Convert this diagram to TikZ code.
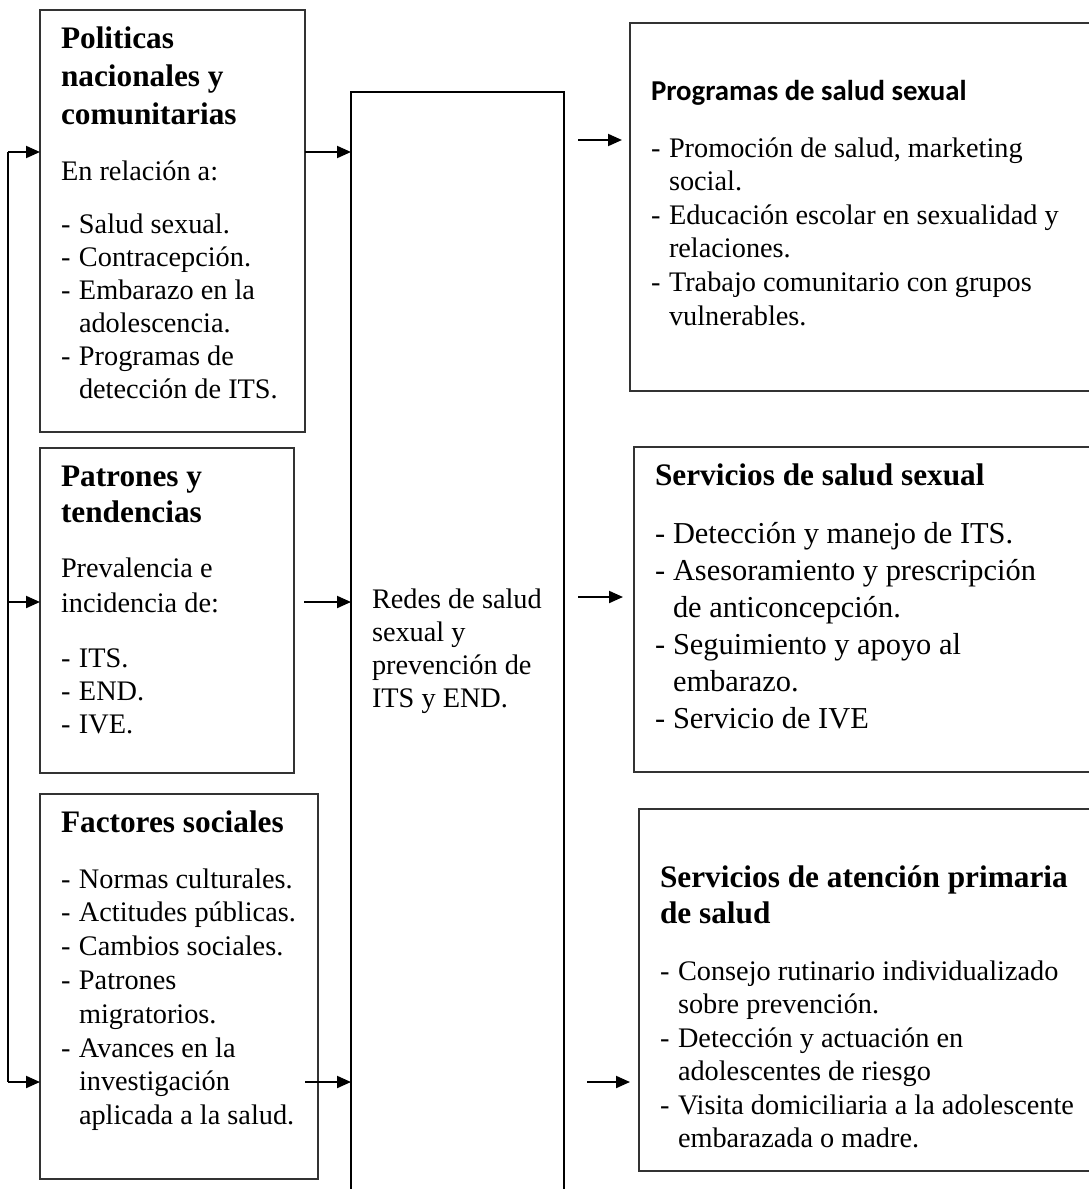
\documentclass[tikz,border=0pt]{standalone}
\usepackage{fontspec}
\setmainfont{Liberation Serif}
\newfontfamily\calibrifont{Carlito}
\usetikzlibrary{arrows.meta}

% one line of a text block, set #1 pt below the previous baseline
\newcommand\Ln[2]{\baselineskip=#1pt\relax\hbox{#2}}
% text block whose reference point is the first baseline
\newcommand\block[1]{\vtop{\lineskiplimit=-\maxdimen\lineskip=0pt #1}}
\newcommand\hdf{\fontsize{31.3pt}{36pt}\selectfont\bfseries}
\newcommand\bdf{\fontsize{28.3pt}{33pt}\selectfont}
\newcommand\bgf{\fontsize{30.4pt}{37pt}\selectfont}
\newcommand\itemdash{\makebox[18pt][l]{-}}
\newcommand\contind{\kern18pt}

\begin{document}
\begin{tikzpicture}[x=1pt,y=-1pt,
  box/.style={draw=black!80, line width=1.3pt, inner sep=0pt, outer sep=0pt, anchor=north west},
  mainbox/.style={draw=black, line width=2pt, inner sep=0pt, outer sep=0pt, anchor=north west},
  txt/.style={anchor=base west, inner sep=0pt, outer sep=0pt},
  arr/.style={-{Triangle[length=14pt,width=12pt]}, line width=2pt},
  feed/.style={line width=1.6pt}]

\useasboundingbox (0,0) rectangle (1088,1189);

% boxes
\node[box, minimum width=265pt, minimum height=422pt] (pol) at (40,10) {};
\node[box, minimum width=254pt, minimum height=325pt] (pat) at (40,448) {};
\node[box, minimum width=278pt, minimum height=385pt] (fac) at (40,794) {};
\node[mainbox, minimum width=213pt, minimum height=1112pt] (cen) at (351,92) {};
\node[box, minimum width=470pt, minimum height=368pt] (pro) at (630,23) {};
\node[box, minimum width=466pt, minimum height=325pt] (ser) at (634,447) {};
\node[box, minimum width=461pt, minimum height=362pt] (ate) at (639,809) {};

% texts
\node[txt] (poltxt) at (61,48) {\block{%
  \Ln{0}{\hdf Politicas}
  \Ln{38}{\hdf nacionales y}
  \Ln{38}{\hdf comunitarias}
  \Ln{56}{\bdf En relación a:}
  \Ln{53}{\bdf\itemdash Salud sexual.}
  \Ln{33}{\bdf\itemdash Contracepción.}
  \Ln{33}{\bdf\itemdash Embarazo en la}
  \Ln{33}{\bdf\contind adolescencia.}
  \Ln{33}{\bdf\itemdash Programas de}
  \Ln{33}{\bdf\contind detección de ITS.}}};

\node[txt] (pattxt) at (61,486) {\block{%
  \Ln{0}{\hdf Patrones y}
  \Ln{36}{\hdf tendencias}
  \Ln{55}{\bdf Prevalencia e}
  \Ln{35}{\bdf incidencia de:}
  \Ln{55}{\bdf\itemdash ITS.}
  \Ln{33}{\bdf\itemdash END.}
  \Ln{33}{\bdf\itemdash IVE.}}};

\node[txt] (factxt) at (61,832) {\block{%
  \Ln{0}{\hdf Factores sociales}
  \Ln{56}{\bdf\itemdash Normas culturales.}
  \Ln{33.8}{\bdf\itemdash Actitudes públicas.}
  \Ln{33.8}{\bdf\itemdash Cambios sociales.}
  \Ln{33.8}{\bdf\itemdash Patrones}
  \Ln{33.8}{\bdf\contind migratorios.}
  \Ln{33.8}{\bdf\itemdash Avances en la}
  \Ln{33.8}{\bdf\contind investigación}
  \Ln{33.8}{\bdf\contind aplicada a la salud.}}};

\node[txt] (centxt) at (372,608) {\block{%
  \Ln{0}{\bdf Redes de salud}
  \Ln{33.3}{\bdf sexual y}
  \Ln{33.3}{\bdf prevención de}
  \Ln{33.3}{\bdf ITS y END.}}};

\node[txt] (protxt) at (651,100) {\block{%
  \Ln{0}{\calibrifont\bfseries\fontsize{28.8pt}{34pt}\selectfont Programas de salud sexual}
  \Ln{57}{\bdf\itemdash Promoción de salud, marketing}
  \Ln{33.6}{\bdf\contind social.}
  \Ln{33.6}{\bdf\itemdash Educación escolar en sexualidad y}
  \Ln{33.6}{\bdf\contind relaciones.}
  \Ln{33.6}{\bdf\itemdash Trabajo comunitario con grupos}
  \Ln{33.6}{\bdf\contind vulnerables.}}};

\node[txt] (sertxt) at (655,485) {\block{%
  \Ln{0}{\hdf Servicios de salud sexual}
  \Ln{58}{\bgf\itemdash Detección y manejo de ITS.}
  \Ln{37}{\bgf\itemdash Asesoramiento y prescripción}
  \Ln{37}{\bgf\contind de anticoncepción.}
  \Ln{37}{\bgf\itemdash Seguimiento y apoyo al}
  \Ln{37}{\bgf\contind embarazo.}
  \Ln{37}{\bgf\itemdash Servicio de IVE}}};

\node[txt] (atetxt) at (660,887) {\block{%
  \Ln{0}{\hdf Servicios de atención primaria}
  \Ln{36}{\hdf de salud}
  \Ln{57}{\bdf\itemdash Consejo rutinario individualizado}
  \Ln{33.5}{\bdf\contind sobre prevención.}
  \Ln{33.5}{\bdf\itemdash Detección y actuación en}
  \Ln{33.5}{\bdf\contind adolescentes de riesgo}
  \Ln{33.5}{\bdf\itemdash Visita domiciliaria a la adolescente}
  \Ln{33.5}{\bdf\contind embarazada o madre.}}};

% feedback line on the left
\coordinate (fbtop) at (8,152);
\coordinate (fbmid) at (8,602);
\coordinate (fbbot) at (8,1082);
\draw[feed] (fbtop) -- (fbbot);
\draw[arr] (fbtop) -- (pol.west |- fbtop);
\draw[arr] (fbmid) -- (pat.west |- fbmid);
\draw[arr] (fbbot) -- (fac.west |- fbbot);

% arrows into the central box
\coordinate (patout) at (304,602);
\coordinate (facout) at (305,1082);
\draw[arr] (pol.east |- fbtop) -- (cen.west |- fbtop);
\draw[arr] (patout) -- (cen.west |- patout);
\draw[arr] (facout) -- (cen.west |- facout);

% arrows towards the boxes on the right
\coordinate (proin) at (578,140);
\coordinate (proend) at (622,140);
\coordinate (serin) at (578,597);
\coordinate (serend) at (623,597);
\coordinate (atein) at (587,1082);
\coordinate (ateend) at (630,1082);
\draw[arr] (proin) -- (proend);
\draw[arr] (serin) -- (serend);
\draw[arr] (atein) -- (ateend);

\end{tikzpicture}
\end{document}
